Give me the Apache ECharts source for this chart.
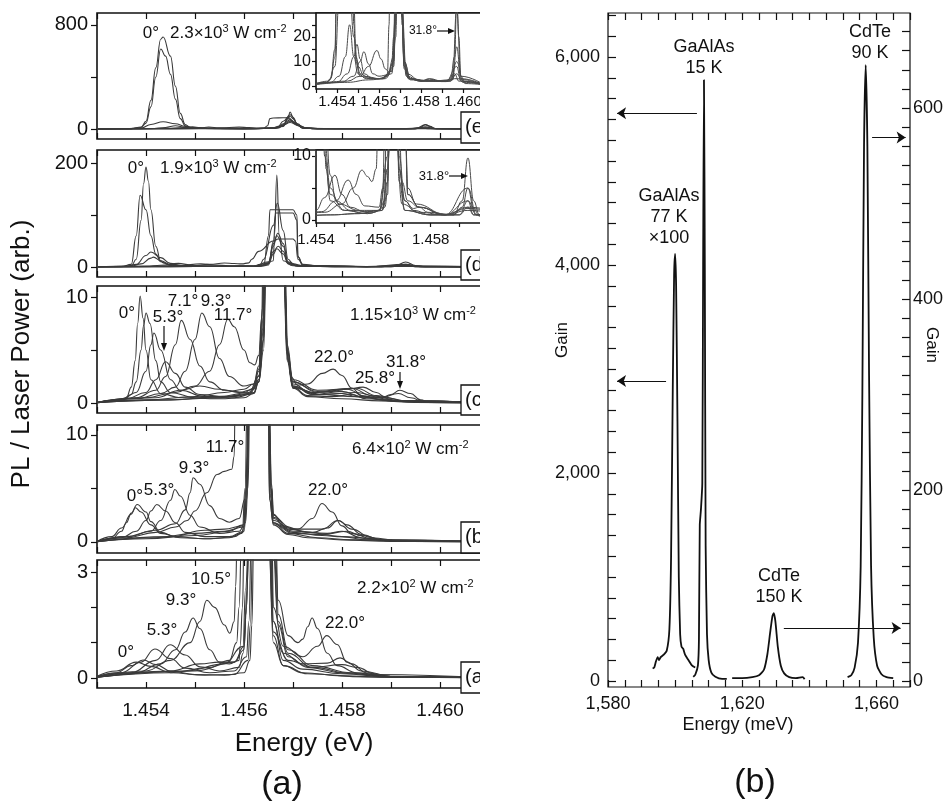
<!DOCTYPE html>
<html>
<head>
<meta charset="utf-8">
<script src="https://cdn.jsdelivr.net/npm/echarts@6/dist/echarts.min.js"></script>
<style>
  html, body { margin: 0; padding: 0; background: #fff; }
  #chart { width: 948px; height: 809px; }
</style>
</head>
<body>
<div id="chart"></div>
<script>
const FONT = '"Liberation Sans", Arial, Helvetica, sans-serif';
const INK = '#111';

function range(a, b, step) {
  const out = [];
  for (let i = 0; a + i * step <= b + step * 1e-6; i++) out.push(+(a + i * step).toFixed(6));
  return out;
}

// ---------- Energy axis of the stacked PL spectra (eV) ----------
const energyTicks = [1.453, 1.454, 1.455, 1.456, 1.457, 1.458, 1.459, 1.460, 1.461];
const energyLabels = [1.454, 1.456, 1.458, 1.460];
const insetDEnergyTicks = [1.454, 1.455, 1.456, 1.457, 1.458, 1.459, 1.460];
const insetDEnergyLabels = [1.454, 1.456, 1.458];

// ---------- Intensity ticks per panel ----------
const ticksE = [0, 400, 800],  labelsE = [0, 800];
const ticksD = [0, 100, 200],  labelsD = [0, 200];
const ticksC = [0, 5, 10],     labelsC = [0, 10];
const ticksB = [0, 5, 10],     labelsB = [0, 10];
const ticksA = [0, 1, 2, 3],   labelsA = [0, 3];
const insetETicks = [0, 5, 10, 15, 20, 25], insetELabels = [0, 10, 20];
const insetDTicks = [0, 5, 10],             insetDLabels = [0, 10];

// ---------- (e) 2.3×10³ W cm⁻² : [energy eV, PL / laser power] ----------
const spectraE = [
  [[1.4530,1],[1.4535,1.5],[1.4537,3],[1.4539,15],[1.4540,60],[1.4541,220],[1.4542,470],[1.4543,690],[1.45435,708],[1.4545,560],[1.4546,330],[1.4547,120],[1.4548,35],[1.4549,12],[1.4551,5],[1.4555,3.5],[1.4560,3],[1.4564,4],[1.4567,10],[1.4568,30],[1.45694,60],[1.4571,30],[1.4572,8],[1.4574,3],[1.4580,2],[1.4594,2],[1.4597,5],[1.4600,1.5],[1.4610,0.5]],
  [[1.4530,1],[1.4535,1.5],[1.4537,3],[1.4539,12],[1.4540,45],[1.4541,170],[1.4542,400],[1.4543,615],[1.4544,560],[1.4545,420],[1.4546,230],[1.4547,80],[1.4548,25],[1.4549,10],[1.4551,4],[1.4556,3],[1.4562,3],[1.4566,6],[1.4568,25],[1.4569,80],[1.45705,40],[1.4572,10],[1.4574,3],[1.4580,2],[1.4594,2],[1.4597,10],[1.4600,2],[1.4610,0.5]],
  [[1.4530,1],[1.4536,2],[1.4539,8],[1.4541,35],[1.45435,56],[1.4546,40],[1.4548,20],[1.4550,8],[1.4553,4],[1.4560,3],[1.4566,5],[1.4568,20],[1.4569,90],[1.45694,131],[1.4570,90],[1.4571,25],[1.4573,4],[1.4580,2],[1.4584,3],[1.4590,2],[1.4595,2.5],[1.4597,16],[1.4599,3],[1.4610,0.5]],
  [[1.4530,0.8],[1.4537,1.5],[1.4541,4],[1.4544,12],[1.4546,25],[1.4548,12],[1.4550,5],[1.4554,3],[1.4561,3],[1.4566,6],[1.4568,30],[1.4569,85],[1.45694,100],[1.4570,80],[1.4571,30],[1.4573,5],[1.4580,2],[1.4584,2.8],[1.4590,1.8],[1.4595,3],[1.4597,32],[1.4599,4],[1.4610,0.5]],
  [[1.4530,0.8],[1.4540,1.5],[1.4545,5],[1.4548,12],[1.45495,17],[1.4551,11],[1.4553,5],[1.4557,3],[1.4562,3],[1.4564,5],[1.45648,25],[1.45653,80],[1.4566,85],[1.4568,86],[1.4569,88],[1.45705,40],[1.4572,8],[1.4575,3],[1.4582,2],[1.4592,1.8],[1.4596,3],[1.4610,0.5]],
  [[1.4530,0.8],[1.4542,1.5],[1.4548,4],[1.4551,10],[1.45528,14],[1.4555,9],[1.4557,5],[1.4560,4],[1.4564,4.5],[1.4567,12],[1.4568,40],[1.45694,70],[1.4571,35],[1.4572,10],[1.4575,3],[1.4582,2.2],[1.4592,2],[1.4596,5],[1.4598,2],[1.4610,0.5]],
  [[1.4530,0.8],[1.4545,2],[1.4551,4],[1.4555,8],[1.4559,14.5],[1.4561,11],[1.4563,7],[1.45648,5.7],[1.4566,9],[1.4567,20],[1.4568,60],[1.45694,110],[1.4571,40],[1.4572,10],[1.4575,3],[1.4582,2.3],[1.4592,2],[1.4597,8],[1.4599,2],[1.4610,0.5]],
  [[1.4530,0.6],[1.4545,1.5],[1.4555,2.5],[1.4563,3],[1.4567,8],[1.4568,30],[1.45694,50],[1.4571,28],[1.4572,7],[1.4575,2.5],[1.4585,2],[1.4594,2.5],[1.4596,12],[1.4597,34],[1.4598,20],[1.4599,4],[1.4601,1],[1.4610,0.5]]
];

// ---------- (d) 1.9×10³ W cm⁻² ----------
const spectraD = [
  [[1.4530,0.5],[1.4535,0.8],[1.4537,2],[1.4538,15],[1.4539,90],[1.45395,160],[1.4540,192],[1.45405,165],[1.4541,110],[1.4542,40],[1.4543,12],[1.45435,8],[1.4545,3],[1.4550,1.5],[1.4558,1],[1.4563,1.5],[1.4565,6],[1.4566,25],[1.45667,35],[1.4568,25],[1.4569,6],[1.4571,1.5],[1.4580,0.8],[1.4590,0.8],[1.4593,2],[1.4595,0.8],[1.4610,0.3]],
  [[1.4530,0.5],[1.4535,1],[1.4537,5],[1.4538,60],[1.45388,138],[1.4540,110],[1.4541,60],[1.4542,25],[1.4543,10],[1.4545,4],[1.4550,1.5],[1.4558,1],[1.4563,1.5],[1.4565,8],[1.4566,40],[1.45667,60],[1.4568,40],[1.4569,8],[1.4571,1.5],[1.4580,0.8],[1.4590,0.8],[1.4593,3],[1.4595,0.8],[1.4610,0.3]],
  [[1.4530,0.5],[1.4536,1.5],[1.4538,5],[1.4540,22],[1.4541,29],[1.4543,18],[1.4545,7],[1.4547,3],[1.4552,1.5],[1.4560,1.2],[1.4564,2],[1.4566,12],[1.45662,60],[1.45667,177],[1.45672,60],[1.4568,12],[1.4570,2.5],[1.4576,1.2],[1.4585,0.8],[1.4593,5],[1.4596,0.8],[1.4610,0.3]],
  [[1.4530,0.5],[1.4537,2],[1.4539,6],[1.4541,17],[1.45415,19],[1.4543,12],[1.4545,5],[1.4548,2.5],[1.4555,1.5],[1.4562,1.5],[1.4564,3],[1.4565,60],[1.45653,110],[1.4570,110],[1.45708,100],[1.4571,20],[1.4572,4],[1.4576,2],[1.4585,0.8],[1.4593,3],[1.4596,0.8],[1.4610,0.3]],
  [[1.4530,0.4],[1.4540,1.5],[1.4543,3.5],[1.45466,7.0],[1.4549,4],[1.4552,2],[1.4557,1.3],[1.4563,1.5],[1.4565,4],[1.4566,50],[1.45665,104],[1.4570,104],[1.45708,90],[1.4571,20],[1.4572,4],[1.4576,2],[1.4585,0.8],[1.4593,2],[1.4610,0.3]],
  [[1.4530,0.4],[1.4542,1.3],[1.4547,3],[1.45512,6.25],[1.4554,4],[1.4557,2.2],[1.4562,2],[1.45633,5],[1.4564,15],[1.4566,80],[1.45668,123],[1.4568,70],[1.4569,15],[1.4570,6],[1.4572,3],[1.4576,2],[1.4585,0.8],[1.4593,1.5],[1.4610,0.3]],
  [[1.4530,0.4],[1.4543,1.2],[1.4549,2.5],[1.4553,5],[1.4556,7.8],[1.4558,6.8],[1.45595,6],[1.4561,8],[1.45616,15],[1.4563,30],[1.4566,50],[1.4567,54],[1.4570,54],[1.45705,50],[1.4571,15],[1.4572,5],[1.4575,2.5],[1.4585,0.9],[1.4593,1.8],[1.4610,0.3]],
  [[1.4530,0.3],[1.4545,0.8],[1.4555,1],[1.4562,1.5],[1.4565,10],[1.4566,45],[1.45669,65],[1.4568,45],[1.4569,10],[1.4571,3],[1.4574,1.5],[1.4580,0.8],[1.4588,0.8],[1.4591,3],[1.4593,9.7],[1.4595,3],[1.4597,0.8],[1.4610,0.3]],
  [[1.4530,0.3],[1.4545,0.8],[1.4555,1],[1.4562,1.5],[1.4565,8],[1.4566,30],[1.4567,40],[1.4568,30],[1.4569,8],[1.4571,3],[1.4574,1.8],[1.4576,2.0],[1.4579,1.2],[1.4588,0.8],[1.4591,2],[1.4593,5],[1.4595,1.8],[1.4597,0.6],[1.4610,0.3]]
];

// ---------- (c) 1.15×10³ W cm⁻² ----------
const spectraC = [
  [[1.4530,0.05],[1.4534,0.2],[1.4536,0.5],[1.4537,1.5],[1.45378,4],[1.45383,7.5],[1.45388,10.1],[1.45394,8],[1.4540,5],[1.4541,2.2],[1.4543,0.9],[1.4547,0.5],[1.4555,0.4],[1.4560,0.5],[1.4562,0.9],[1.4563,2],[1.45638,5],[1.45644,14],[1.4566,40],[1.4568,14],[1.45688,4],[1.4570,1.4],[1.4573,0.6],[1.4580,0.4],[1.4588,0.2],[1.4595,0.05],[1.4610,0]],
  [[1.4530,0.05],[1.4535,0.3],[1.4537,0.8],[1.4538,2],[1.4539,5],[1.45395,7.3],[1.4540,8.5],[1.45408,7.5],[1.4542,4],[1.4543,2],[1.4545,1],[1.4550,0.5],[1.4558,0.5],[1.4562,0.9],[1.4563,2],[1.4564,6],[1.45645,15],[1.4566,40],[1.4568,15],[1.45688,4.5],[1.4570,1.5],[1.4573,0.7],[1.4578,0.6],[1.4582,0.8],[1.4585,0.4],[1.4595,0.1],[1.4610,0]],
  [[1.4530,0.05],[1.4535,0.3],[1.4538,1],[1.4540,3],[1.4541,5.5],[1.45416,6.6],[1.4543,5],[1.4545,2.2],[1.4547,1.2],[1.4552,0.6],[1.4558,0.6],[1.4562,1],[1.4563,2.2],[1.4564,7],[1.45645,16],[1.4566,40],[1.4568,16],[1.4569,4],[1.4570,1.8],[1.4574,0.8],[1.4580,0.9],[1.4583,0.6],[1.4590,0.2],[1.4610,0]],
  [[1.4530,0.05],[1.4536,0.4],[1.4540,1],[1.4542,2.2],[1.4544,3.9],[1.4546,2.8],[1.4548,1.5],[1.4551,0.8],[1.4556,0.6],[1.4561,0.8],[1.4563,2],[1.4564,5],[1.45646,15],[1.4566,40],[1.4568,15],[1.4569,4],[1.4570,1.6],[1.4574,0.8],[1.4580,1.1],[1.4584,0.6],[1.4590,0.2],[1.4610,0]],
  [[1.4530,0.05],[1.4538,0.5],[1.4542,1.2],[1.4544,2.5],[1.4546,5.5],[1.45472,7.8],[1.4549,6],[1.4551,3.5],[1.4553,2],[1.4556,1.2],[1.4560,1],[1.4562,1.4],[1.4563,3],[1.45638,7],[1.45643,16],[1.4566,40],[1.4568,16],[1.45688,5],[1.4570,2],[1.4575,1],[1.4581,1.3],[1.4585,0.6],[1.4592,0.2],[1.4610,0]],
  [[1.4530,0.05],[1.4538,0.4],[1.4543,0.9],[1.4546,1.5],[1.4548,3],[1.4550,6],[1.45514,8.5],[1.4553,7.2],[1.4555,4.2],[1.4557,2.5],[1.4560,1.6],[1.4562,1.8],[1.4563,3.2],[1.45637,8],[1.45642,18],[1.4566,40],[1.4568,16],[1.45688,5],[1.4570,2],[1.4575,1.1],[1.4582,1.4],[1.4586,0.7],[1.4592,0.2],[1.4610,0]],
  [[1.4530,0.05],[1.4540,0.5],[1.4546,1],[1.4550,1.6],[1.4553,3],[1.4555,5.5],[1.45567,7.9],[1.4558,7.2],[1.4560,5],[1.45612,3.8],[1.45622,3.6],[1.4563,4.5],[1.45636,8],[1.4564,18],[1.4566,40],[1.4568,18],[1.45688,5.5],[1.4570,2.2],[1.4575,1.2],[1.4583,1.4],[1.4587,0.7],[1.4593,0.2],[1.4610,0]],
  [[1.4530,0.03],[1.4540,0.3],[1.4550,0.6],[1.4556,1],[1.4560,1.3],[1.4562,1.8],[1.4563,3.5],[1.45638,9],[1.45642,20],[1.4566,40],[1.4568,20],[1.4569,5],[1.45695,2.5],[1.4571,1.7],[1.4573,1.8],[1.4576,2.8],[1.45782,3.2],[1.4580,2.6],[1.4582,1.4],[1.4584,0.7],[1.4588,0.3],[1.4595,0.1],[1.4610,0]],
  [[1.4530,0.03],[1.4545,0.3],[1.4555,0.6],[1.4561,1],[1.4563,2.5],[1.45638,7],[1.45643,18],[1.4566,40],[1.4568,15],[1.4569,4],[1.4570,1.6],[1.4574,1],[1.4578,1.1],[1.4581,1.3],[1.45843,1.5],[1.4587,1.0],[1.4589,0.5],[1.4593,0.2],[1.4610,0]],
  [[1.4530,0.03],[1.4545,0.3],[1.4555,0.5],[1.4561,0.9],[1.4563,2.2],[1.4564,6],[1.45645,17],[1.4566,40],[1.4568,14],[1.4569,4],[1.4570,1.5],[1.4575,0.8],[1.4583,0.6],[1.4588,0.5],[1.4590,0.8],[1.45918,1.2],[1.4594,0.9],[1.4596,0.3],[1.4598,0.05],[1.4610,0]],
  [[1.4530,0.03],[1.4542,0.5],[1.4547,1.2],[1.4551,1.6],[1.4555,1.3],[1.4559,1],[1.4562,1.3],[1.4563,2.6],[1.45639,8],[1.45644,18],[1.4566,40],[1.4568,14],[1.4569,4],[1.4570,1.4],[1.4576,0.8],[1.4583,1.0],[1.4588,0.5],[1.45915,0.9],[1.4594,0.5],[1.4597,0.05],[1.4610,0]]
];

// ---------- (b) 6.4×10² W cm⁻² ----------
const spectraB = [
  [[1.4530,0.05],[1.4533,0.3],[1.4535,1],[1.4536,1.8],[1.4537,2.7],[1.45382,3.5],[1.4540,2.8],[1.4541,1.9],[1.4543,0.9],[1.4546,0.5],[1.4552,0.3],[1.4557,0.4],[1.45595,0.8],[1.4560,1.5],[1.45605,4],[1.4561,12],[1.4563,40],[1.4565,12],[1.45652,4],[1.4566,1.6],[1.4569,0.7],[1.4573,0.4],[1.4580,0.2],[1.4590,0.05],[1.4610,0]],
  [[1.4530,0.05],[1.4533,0.5],[1.4535,1.3],[1.4537,2.6],[1.45378,3.2],[1.4539,2.8],[1.4541,1.6],[1.4543,0.8],[1.4547,0.4],[1.4553,0.3],[1.4558,0.5],[1.45598,0.9],[1.45604,4],[1.45609,12],[1.4563,40],[1.4565,12],[1.45655,4],[1.4566,1.8],[1.4569,0.8],[1.4575,0.4],[1.4582,0.2],[1.4610,0]],
  [[1.4530,0.05],[1.4535,0.4],[1.4538,1],[1.4540,2],[1.4541,2.9],[1.45422,3.5],[1.4544,2.9],[1.4546,1.8],[1.4548,0.9],[1.4552,0.5],[1.4557,0.5],[1.4560,1],[1.45606,4],[1.4561,12],[1.4563,40],[1.4565,12],[1.45653,4.5],[1.4566,1.8],[1.4570,0.9],[1.4576,0.6],[1.4580,0.5],[1.4585,0.2],[1.4610,0]],
  [[1.4530,0.05],[1.4536,0.5],[1.4541,1],[1.4543,2],[1.4545,3.9],[1.45459,4.9],[1.4547,4.3],[1.4549,2.5],[1.4551,1.4],[1.4555,0.8],[1.4559,1],[1.45603,1.8],[1.45608,5],[1.45612,13],[1.4563,40],[1.4565,13],[1.45655,5],[1.4566,2],[1.4570,1],[1.4577,0.8],[1.4580,1.0],[1.4584,0.4],[1.4590,0.1],[1.4610,0]],
  [[1.4530,0.05],[1.4536,0.5],[1.4542,1.1],[1.4546,1.7],[1.4548,3],[1.4549,4.6],[1.45496,6.0],[1.4551,5.4],[1.4553,3.4],[1.4555,2.2],[1.4557,1.85],[1.4559,2.2],[1.45602,4],[1.45607,8],[1.4561,15],[1.4563,40],[1.4565,14],[1.45656,5],[1.4566,2.3],[1.4570,1.2],[1.4576,1.2],[1.45792,2.0],[1.4582,1.2],[1.4586,0.4],[1.4592,0.1],[1.4610,0]],
  [[1.4530,0.05],[1.4536,0.4],[1.4542,0.9],[1.4546,1.4],[1.45484,2.0],[1.4550,2.9],[1.45524,4.6],[1.45545,6.3],[1.4556,6.6],[1.45575,6.8],[1.4558,8],[1.45582,14],[1.4560,40],[1.4563,40],[1.4565,14],[1.45657,5],[1.4566,2.5],[1.4569,1.3],[1.4573,0.9],[1.4580,0.5],[1.4590,0.1],[1.4610,0]],
  [[1.4530,0.03],[1.4540,0.3],[1.4550,0.6],[1.4557,1],[1.45598,1.6],[1.45604,5],[1.4561,14],[1.4563,40],[1.4565,15],[1.45656,5.5],[1.4566,2.6],[1.4568,1.5],[1.4571,1.2],[1.4574,2.2],[1.45759,3.6],[1.4578,2.8],[1.4580,1.5],[1.4582,0.8],[1.4586,0.3],[1.4592,0.05],[1.4610,0]],
  [[1.4530,0.03],[1.4542,0.4],[1.4550,0.8],[1.4556,1],[1.4560,1.4],[1.45606,5],[1.45611,13],[1.4563,40],[1.4565,13],[1.45655,5],[1.4566,2.2],[1.4569,1.2],[1.4574,0.9],[1.4577,1.3],[1.45792,2.0],[1.4581,1.6],[1.4584,0.7],[1.4588,0.2],[1.4610,0]],
  [[1.4530,0.03],[1.4545,0.5],[1.4552,1.1],[1.4556,1.2],[1.45597,1.5],[1.45602,5],[1.45607,14],[1.4563,40],[1.4565,12],[1.45652,4],[1.4566,1.7],[1.4570,0.8],[1.4576,0.7],[1.4581,1.0],[1.4584,0.6],[1.4589,0.15],[1.4610,0]]
];

// ---------- (a) 2.2×10² W cm⁻² ----------
const spectraA = [
  [[1.4530,0.04],[1.4534,0.15],[1.4537,0.35],[1.45394,0.51],[1.4542,0.38],[1.4545,0.2],[1.4550,0.1],[1.4556,0.08],[1.4560,0.15],[1.45612,0.5],[1.45616,1.5],[1.4562,4],[1.4564,10],[1.45652,4],[1.4566,1.2],[1.4568,0.35],[1.4572,0.15],[1.4580,0.06],[1.4590,0.02],[1.4610,0]],
  [[1.4530,0.05],[1.4534,0.2],[1.4538,0.45],[1.4541,0.33],[1.4545,0.15],[1.4552,0.08],[1.4558,0.1],[1.45608,0.5],[1.45613,1.5],[1.45618,4],[1.4564,10],[1.4565,4],[1.4566,1],[1.4568,0.35],[1.4573,0.12],[1.4585,0.03],[1.4610,0]],
  [[1.4530,0.04],[1.4535,0.15],[1.4539,0.45],[1.45418,0.82],[1.4545,0.55],[1.4548,0.28],[1.4553,0.15],[1.4558,0.2],[1.45605,0.6],[1.4561,1.6],[1.45615,4],[1.4564,10],[1.45655,4],[1.4566,1.6],[1.4568,0.5],[1.4572,0.25],[1.4580,0.12],[1.4590,0.03],[1.4610,0]],
  [[1.4530,0.03],[1.4537,0.15],[1.4542,0.5],[1.45449,0.94],[1.4548,0.65],[1.4551,0.32],[1.4555,0.2],[1.4559,0.3],[1.45598,0.7],[1.45604,1.8],[1.4561,4],[1.4564,10],[1.45658,4],[1.4567,1.5],[1.4569,0.6],[1.4573,0.3],[1.4580,0.15],[1.4590,0.04],[1.4610,0]],
  [[1.4530,0.03],[1.4538,0.15],[1.4543,0.4],[1.4546,0.8],[1.4548,1.3],[1.45496,1.7],[1.4551,1.4],[1.4553,0.8],[1.4555,0.45],[1.4557,0.4],[1.4559,0.5],[1.45592,0.9],[1.45597,2],[1.4560,4],[1.4564,10],[1.4566,4],[1.4567,1.6],[1.4569,0.7],[1.4574,0.3],[1.4582,0.12],[1.4590,0.03],[1.4610,0]],
  [[1.4530,0.03],[1.4540,0.2],[1.4545,0.5],[1.4549,1.0],[1.4551,1.6],[1.45524,2.2],[1.4554,2.0],[1.4556,1.5],[1.45571,1.27],[1.4558,1.6],[1.45583,2.6],[1.45586,4],[1.4564,10],[1.45665,4],[1.4567,1.8],[1.4569,0.8],[1.4574,0.35],[1.4582,0.15],[1.4590,0.04],[1.4610,0]],
  [[1.4530,0.02],[1.4545,0.15],[1.4553,0.3],[1.4557,0.5],[1.45585,1],[1.4559,2],[1.45595,4],[1.4564,10],[1.45662,4],[1.4567,2.2],[1.4569,1.2],[1.4571,1.0],[1.4572,1.1],[1.4573,1.45],[1.45739,1.7],[1.4575,1.4],[1.4577,0.7],[1.4579,0.35],[1.4583,0.15],[1.4590,0.04],[1.4610,0]],
  [[1.4530,0.02],[1.4548,0.2],[1.4556,0.4],[1.45598,0.9],[1.45603,2.5],[1.4561,4],[1.4564,10],[1.45657,4],[1.4566,2],[1.4568,0.9],[1.4572,0.6],[1.4575,0.9],[1.45769,1.2],[1.4579,0.95],[1.4581,0.45],[1.4584,0.2],[1.4590,0.05],[1.4610,0]],
  [[1.4530,0.02],[1.4550,0.2],[1.4558,0.45],[1.4560,0.8],[1.45606,2.5],[1.4561,4],[1.4564,10],[1.45653,4],[1.4566,1.6],[1.4568,0.7],[1.4572,0.4],[1.4577,0.42],[1.45796,0.57],[1.4582,0.4],[1.4585,0.15],[1.4590,0.04],[1.4610,0]],
  [[1.4530,0.02],[1.4545,0.2],[1.4551,0.4],[1.4555,0.45],[1.4558,0.45],[1.4560,0.9],[1.45605,2],[1.4561,4],[1.4564,10],[1.4565,4],[1.4566,1.3],[1.4569,0.5],[1.4574,0.3],[1.4580,0.38],[1.4583,0.3],[1.4587,0.1],[1.4610,0]]
];

// ---------- Gain spectra (meV, gain) ----------
const gaalas77K = [[1593.3,120],[1593.8,130],[1594.3,190],[1594.8,230],[1595.2,200],[1595.7,230],[1596.5,250],[1597.5,290],[1598.3,500],[1598.8,1200],[1599.3,2800],[1599.7,3900],[1600.0,4106],[1600.3,3800],[1600.7,2500],[1601.1,1000],[1601.5,450],[1601.9,330],[1602.4,310],[1603.0,250],[1604.0,200],[1605.0,150],[1606.0,130]];
const gaalas15K = [[1605.4,40],[1606.0,60],[1606.8,150],[1607.1,400],[1607.35,1500],[1607.7,1650],[1608.1,1900],[1608.35,4000],[1608.6,5779],[1608.85,4000],[1609.1,1300],[1609.5,450],[1610.0,200],[1610.8,80],[1612.0,40],[1614.0,20],[1615.4,20]];
const cdte150K = [[1617.0,3],[1620.0,3],[1623.0,4],[1625.0,6],[1626.5,12],[1627.5,28],[1628.3,50],[1629.0,68],[1629.4,71],[1629.9,62],[1630.6,36],[1631.5,16],[1632.5,8],[1634.0,4],[1636.0,3],[1638.0,4],[1638.6,2]];
const cdte90K = [[1651.4,4],[1652.5,6],[1653.5,14],[1654.5,40],[1655.3,120],[1655.8,300],[1656.3,560],[1656.8,645],[1657.3,560],[1657.8,320],[1658.4,120],[1659.2,45],[1660.2,16],[1661.5,7],[1663.0,4],[1665.0,3]];

const meVTicks = range(1580, 1670, 5);
const meVLabels = [1580, 1620, 1660];
const gainLeftTicks = range(0, 6400, 200);
const gainLeftLabels = [0, 2000, 4000, 6000];
const gainRightTicks = range(0, 680, 20);
const gainRightLabels = [0, 200, 400, 600];

const thousands = v => String(Math.round(v)).replace(/\B(?=(\d{3})+(?!\d))/g, ',');

// ---------- Layout of the stacked panels ----------
const PANEL_LEFT = 97, PANEL_WIDTH = 392;
const panels = [
  { id: 'e', top: 13,  height: 126, min: -77,    max: 892,   ticks: ticksE, labels: labelsE, data: spectraE },
  { id: 'd', top: 150, height: 127, min: -19.2,  max: 225,   ticks: ticksD, labels: labelsD, data: spectraD },
  { id: 'c', top: 286, height: 127, min: -0.94,  max: 11.04, ticks: ticksC, labels: labelsC, data: spectraC },
  { id: 'b', top: 425, height: 128, min: -1.03,  max: 10.93, ticks: ticksB, labels: labelsB, data: spectraB },
  { id: 'a', top: 560, height: 128, min: -0.283, max: 3.34,  ticks: ticksA, labels: labelsA, data: spectraA }
];

const grid = [], xAxis = [], yAxis = [], series = [];
const tickLine = { color: INK, width: 1.2 };
const labelBase = { fontFamily: FONT, color: INK };
const SMOOTH = 0.45;

panels.forEach(p => {
  const gi = grid.length;
  grid.push({ left: PANEL_LEFT, top: p.top, width: PANEL_WIDTH, height: p.height,
    show: true, borderColor: INK, borderWidth: 1.6, backgroundColor: 'transparent', z: 0 });
  const isBottom = p.id === 'a';
  const xi = xAxis.length;
  xAxis.push({
    type: 'value', gridIndex: gi, position: 'bottom', min: 1.453, max: 1.461,
    axisLine: { show: false, onZero: false },
    axisTick: { show: true, inside: true, length: 6, customValues: energyTicks, lineStyle: tickLine },
    axisLabel: { show: isBottom, customValues: energyLabels, formatter: v => v.toFixed(3),
      fontSize: 19, margin: 13, ...labelBase },
    splitLine: { show: false }
  });
  xAxis.push({
    type: 'value', gridIndex: gi, position: 'top', min: 1.453, max: 1.461,
    axisLine: { show: false, onZero: false },
    axisTick: { show: true, inside: true, length: 6, customValues: energyTicks, lineStyle: tickLine },
    axisLabel: { show: false }, splitLine: { show: false }
  });
  const yi = yAxis.length;
  yAxis.push({
    type: 'value', gridIndex: gi, min: p.min, max: p.max,
    axisLine: { show: false, onZero: false },
    axisTick: { show: true, inside: false, length: 6, customValues: p.ticks, lineStyle: tickLine },
    axisLabel: { customValues: p.labels, fontSize: 20, margin: 9, ...labelBase },
    splitLine: { show: false }
  });
  p.data.forEach(curve => series.push({
    type: 'line', xAxisIndex: xi, yAxisIndex: yi, data: curve, showSymbol: false,
    smooth: SMOOTH, smoothMonotone: 'x', clip: true, silent: true, z: 2,
    lineStyle: { color: '#3a3a3a', width: 1.1 }
  }));
});

// ---------- Insets of (e) and (d) ----------
const insets = [
  { left: 316, top: 13, width: 168, height: 76, xmin: 1.453, xmax: 1.461, ymin: -1.22, ymax: 29.8,
    xticks: energyTicks, xlabels: energyLabels, yticks: insetETicks, ylabels: insetELabels, labelMargin: 5, data: spectraE },
  { left: 316, top: 150, width: 172, height: 73, xmin: 1.454, xmax: 1.460, ymin: -0.47, ymax: 10.94,
    xticks: insetDEnergyTicks, xlabels: insetDEnergyLabels, yticks: insetDTicks, ylabels: insetDLabels, labelMargin: 9, data: spectraD }
];
insets.forEach(s => {
  const gi = grid.length;
  grid.push({ left: s.left, top: s.top, width: s.width, height: s.height,
    show: true, borderColor: INK, borderWidth: 1.6, backgroundColor: '#fff', z: 3 });
  const xi = xAxis.length;
  xAxis.push({
    type: 'value', gridIndex: gi, position: 'bottom', min: s.xmin, max: s.xmax, z: 4,
    axisLine: { show: false, onZero: false },
    axisTick: { show: true, inside: false, length: 4, customValues: s.xticks, lineStyle: tickLine },
    axisLabel: { customValues: s.xlabels, formatter: v => v.toFixed(3), fontSize: 15, margin: s.labelMargin, ...labelBase },
    splitLine: { show: false }
  });
  const yi = yAxis.length;
  yAxis.push({
    type: 'value', gridIndex: gi, min: s.ymin, max: s.ymax, z: 4,
    axisLine: { show: false, onZero: false },
    axisTick: { show: true, inside: false, length: 4, customValues: s.yticks, lineStyle: tickLine },
    axisLabel: { customValues: s.ylabels, fontSize: 16, margin: 5, ...labelBase },
    splitLine: { show: false }
  });
  s.data.forEach(curve => series.push({
    type: 'line', xAxisIndex: xi, yAxisIndex: yi, data: curve, showSymbol: false,
    smooth: SMOOTH, smoothMonotone: 'x', clip: true, silent: true, z: 5,
    lineStyle: { color: '#4a4a4a', width: 1 }
  }));
});

// ---------- Gain figure ----------
const gGain = grid.length;
grid.push({ left: 608, top: 13, width: 302, height: 674, show: true,
  borderColor: INK, borderWidth: 1.2, backgroundColor: 'transparent' });
const xGain = xAxis.length;
xAxis.push({
  type: 'value', gridIndex: gGain, position: 'bottom', min: 1580, max: 1670,
  axisLine: { show: false, onZero: false },
  axisTick: { show: true, inside: true, length: 7, customValues: meVTicks, lineStyle: tickLine },
  axisLabel: { customValues: meVLabels, formatter: thousands, fontSize: 18, margin: 8, ...labelBase },
  splitLine: { show: false }
});
xAxis.push({
  type: 'value', gridIndex: gGain, position: 'top', min: 1580, max: 1670,
  axisLine: { show: false, onZero: false },
  axisTick: { show: true, inside: true, length: 7, customValues: meVTicks, lineStyle: tickLine },
  axisLabel: { show: false }, splitLine: { show: false }
});
const yGainL = yAxis.length;
yAxis.push({
  type: 'value', gridIndex: gGain, position: 'left', min: -58, max: 6423,
  axisLine: { show: false, onZero: false },
  axisTick: { show: true, inside: true, length: 8, customValues: gainLeftTicks, lineStyle: tickLine },
  axisLabel: { customValues: gainLeftLabels, formatter: thousands, fontSize: 18, margin: 8, ...labelBase },
  splitLine: { show: false }
});
const yGainR = yAxis.length;
yAxis.push({
  type: 'value', gridIndex: gGain, position: 'right', min: -6.3, max: 699.5,
  axisLine: { show: false, onZero: false },
  axisTick: { show: true, inside: true, length: 8, customValues: gainRightTicks, lineStyle: tickLine },
  axisLabel: { customValues: gainRightLabels, fontSize: 18, margin: 3, ...labelBase },
  splitLine: { show: false }
});

const arrowStyle = { silent: true, symbol: ['none', 'arrow'], symbolSize: 9, animation: false,
  label: { show: false }, lineStyle: { color: INK, width: 1.2, type: 'solid' } };
const gainLine = { type: 'line', xAxisIndex: xGain, showSymbol: false, smooth: 0.2, clip: true,
  silent: true, z: 3, lineStyle: { color: INK, width: 1.8 } };

series.push({ ...gainLine, yAxisIndex: yGainL, data: gaalas77K });
series.push({ ...gainLine, yAxisIndex: yGainL, data: gaalas15K,
  markLine: { ...arrowStyle, data: [
    [{ coord: [1606.5, 5460] }, { coord: [1582.7, 5460] }],
    [{ coord: [1597.3, 2885] }, { coord: [1582.7, 2885] }]
  ] } });
series.push({ ...gainLine, yAxisIndex: yGainR, data: cdte150K });
series.push({ ...gainLine, yAxisIndex: yGainR, data: cdte90K,
  markLine: { ...arrowStyle, data: [
    [{ coord: [1658.7, 569] }, { coord: [1668.7, 569] }],
    [{ coord: [1632.4, 55.5] }, { coord: [1667.2, 55.5] }]
  ] } });

// ---------- Annotations ----------
const T = (text, x, y, size, align, extra) => ({
  type: 'text', x, y, z: 50,
  style: Object.assign({ text, font: size + 'px ' + FONT, fill: INK,
    textAlign: align || 'center', textVerticalAlign: 'middle' }, extra || {})
});
const R = (text, x, y, size, rot) => ({
  type: 'text', x, y, z: 50, rotation: rot,
  style: { text, font: size + 'px ' + FONT, fill: INK, textAlign: 'center', textVerticalAlign: 'middle' }
});
const sup = { rich: { s: { fontSize: 11, fontFamily: FONT, verticalAlign: 'top', lineHeight: 20 } } };
const lineEl = (x1, y1, x2, y2) => ({ type: 'line', z: 50, shape: { x1, y1, x2, y2 }, style: { stroke: INK, lineWidth: 1.2 } });
const headDown = (x, y) => ({ type: 'polygon', z: 50, shape: { points: [[x, y], [x - 3, y - 8], [x + 3, y - 8]] }, style: { fill: INK } });
const headRight = (x, y) => ({ type: 'polygon', z: 50, shape: { points: [[x, y], [x - 7, y - 3], [x - 7, y + 3]] }, style: { fill: INK } });
const panelTag = (tag, y, h) => [
  { type: 'rect', z: 55, shape: { x: 461, y, width: 32, height: h }, style: { fill: '#fff', stroke: INK, lineWidth: 1.3 } },
  { type: 'text', z: 56, x: 465, y: y + h / 2, style: { text: tag, font: '20px ' + FONT, fill: INK, textAlign: 'left', textVerticalAlign: 'middle' } }
];

const graphics = [
  // (e)
  T('0°', 151, 33, 17), T('2.3×10{s|3} W cm{s|-2}', 170, 33, 17, 'left', sup),
  T('31.8°', 423, 31, 12), lineEl(437, 31, 450, 31), headRight(455, 31),
  // (d)
  T('0°', 136, 168, 17), T('1.9×10{s|3} W cm{s|-2}', 160, 168, 17, 'left', sup),
  T('31.8°', 434, 176, 13), lineEl(449, 176, 462, 176), headRight(468, 176),
  // (c)
  T('0°', 127, 313, 17), T('5.3°', 168, 317, 17), T('7.1°', 183, 301, 17), T('9.3°', 216, 301, 17),
  T('11.7°', 233, 315, 17), T('1.15×10{s|3} W cm{s|-2}', 350, 315, 17, 'left', sup),
  lineEl(164, 326, 164, 345), headDown(164, 351),
  T('22.0°', 334, 357, 17), T('25.8°', 375, 378, 17), T('31.8°', 406, 362, 17),
  lineEl(400, 372, 400, 383), headDown(400, 389),
  // (b)
  T('11.7°', 225, 447, 17), T('9.3°', 194, 468, 17), T('0°', 135, 496, 17), T('5.3°', 159, 490, 17),
  T('22.0°', 328, 490, 17), T('6.4×10{s|2} W cm{s|-2}', 352, 449, 17, 'left', sup),
  // (a)
  T('10.5°', 211, 579, 17), T('9.3°', 181, 600, 17), T('5.3°', 162, 630, 17), T('0°', 126, 652, 17),
  T('22.0°', 345, 623, 17), T('2.2×10{s|2} W cm{s|-2}', 357, 588, 17, 'left', sup),
  // panel tags
  ...panelTag('(e)', 112, 31), ...panelTag('(d)', 250, 30), ...panelTag('(c)', 385, 30),
  ...panelTag('(b)', 522, 31), ...panelTag('(a)', 662, 31),
  // right-hand trim of the stacked figure
  { type: 'rect', z: 60, shape: { x: 480, y: 0, width: 68, height: 700 }, style: { fill: '#fff' } },
  // axis titles
  R('PL / Laser Power (arb.)', 22, 354, 26, Math.PI / 2),
  T('Energy (eV)', 304, 744, 26),
  R('Gain', 562, 340, 17, Math.PI / 2),
  R('Gain', 932, 345, 17, -Math.PI / 2),
  T('Energy (meV)', 738, 725, 18),
  // gain figure labels
  T('GaAlAs\n15 K', 704, 58, 18, 'center', { lineHeight: 21 }),
  T('CdTe\n90 K', 870, 43, 18, 'center', { lineHeight: 21 }),
  T('GaAlAs\n77 K\n×100', 669, 217, 18, 'center', { lineHeight: 21 }),
  T('CdTe\n150 K', 779, 587, 18, 'center', { lineHeight: 21 }),
  // figure captions
  T('(a)', 282, 785, 34), T('(b)', 755, 783, 34)
];

const chart = echarts.init(document.getElementById('chart'), null, { renderer: 'canvas' });
chart.setOption({
  animation: false,
  backgroundColor: '#fff',
  grid, xAxis, yAxis, series,
  graphic: { elements: graphics }
});
</script>
</body>
</html>
